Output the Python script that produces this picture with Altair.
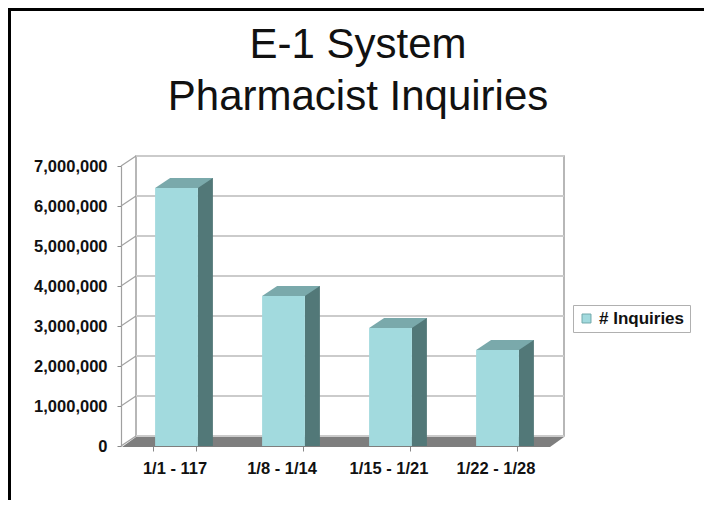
import altair as alt
import pandas as pd

# ---- data ----
categories = ["1/1 - 117", "1/8 - 1/14", "1/15 - 1/21", "1/22 - 1/28"]
inquiries = [6450000, 3750000, 2950000, 2400000]
series_name = "# Inquiries"
y_ticks = [0, 1000000, 2000000, 3000000, 4000000, 5000000, 6000000, 7000000]
title_lines = ["E-1 System", "Pharmacist Inquiries"]

df = pd.DataFrame({"period": categories, "value": inquiries, "series": [series_name] * 4})
ticks_df = pd.DataFrame({"tick": y_ticks})
one = pd.DataFrame({"k": [0]})

W, H = 428, 280
DX, DY = 15, 10  # 3-D depth offset (pixels)
FONT = "Liberation Sans"

FRONT = "#a2dade"
SIDE = "#527878"
TOP = "#7aa9ab"
FLOOR = "#7e7e7e"

xscale = alt.Scale(type="band", domain=categories, paddingInner=0.6, paddingOuter=0.3)
yscale = alt.Scale(domain=[0, 7000000], nice=False, zero=True)

x_axis = alt.Axis(
    labelAngle=0, domain=False, tickBand="extent", tickSize=5, tickColor="#888",
    labelFont=FONT, labelFontSize=16.5, labelFontWeight="bold", labelColor="#111",
    labelPadding=9, title=None,
)
y_axis = alt.Axis(
    values=y_ticks, format=",d", grid=False, domainColor="#a0a0a0", domainWidth=1.2,
    tickColor="#888", tickSize=4, labelFont=FONT, labelFontSize=16.5,
    labelFontWeight="bold", labelColor="#111", labelPadding=10, title=None,
)

def X():
    return alt.X("period:N", scale=xscale, sort=categories, axis=x_axis, title=None)

def Y(field):
    return alt.Y(field, scale=yscale, axis=y_axis, title=None)

# back wall
wall = alt.Chart(one).mark_rect(fill="white", stroke="#a0a0a0", strokeWidth=1.5).encode(
    x=alt.value(DX), x2=alt.value(W + DX), y=alt.value(-DY), y2=alt.value(H - DY)
)

# back-wall gridlines
grid = alt.Chart(ticks_df).mark_rule(color="#cbcbcb", strokeWidth=2, yOffset=-DY).encode(
    y=Y("tick:Q"),
    x=alt.value(DX), x2=alt.value(W + DX),
)

# side-wall diagonals
diag = alt.Chart(ticks_df).mark_rule(color="#a0a0a0", strokeWidth=1.2, y2Offset=-DY).encode(
    y=Y("tick:Q"),
    y2=alt.Y2("tick:Q"),
    x=alt.value(0), x2=alt.value(DX),
)

# floor (parallelogram)
r = 250.0
floor_path = (
    f"M {(-(W + DX) / 2 + 1) / r:.4f} {DY / 2 / r:.4f} "
    f"L {((W + DX) / 2 - DX + 1) / r:.4f} {DY / 2 / r:.4f} "
    f"L {((W + DX) / 2) / r:.4f} {-DY / 2 / r:.4f} "
    f"L {(-(W + DX) / 2 + DX) / r:.4f} {-DY / 2 / r:.4f} Z"
)
floor = alt.Chart(one).mark_point(
    shape=floor_path, size=(2 * r) ** 2, filled=True, color=FLOOR, opacity=1, strokeWidth=0
).encode(x=alt.value((W + DX) / 2), y=alt.value(H - DY / 2 + 1))

bw = W / 4 * 0.4
XOFF = 2

# side faces
side = alt.Chart(df).mark_bar(
    color=SIDE, width=DX, xOffset=bw / 2 + DX / 2 + XOFF, yOffset=-DY
).encode(
    x=X(),
    y=Y("value:Q"),
    y2=alt.datum(0),
)

# top faces
rt = 40.0
top_path = (
    f"M {-bw / 2 / rt:.4f} 0 L {(-bw / 2 + DX) / rt:.4f} {-DY / rt:.4f} "
    f"L {(bw / 2 + DX) / rt:.4f} {-DY / rt:.4f} L {bw / 2 / rt:.4f} 0 Z"
)
top = alt.Chart(df).mark_point(
    shape=top_path, size=(2 * rt) ** 2, filled=True, color=TOP, opacity=1,
    strokeWidth=0, xOffset=XOFF
).encode(
    x=X(),
    y=Y("value:Q"),
)

# front faces (with legend)
front = alt.Chart(df).mark_bar(xOffset=XOFF).encode(
    x=X(),
    y=Y("value:Q"),
    y2=alt.datum(0),
    color=alt.Color(
        "series:N", scale=alt.Scale(range=[FRONT]), title=None,
        legend=alt.Legend(
            orient="none", legendX=452, legendY=139, symbolType="square", symbolSize=80,
            symbolStrokeColor="#70a8aa", symbolStrokeWidth=1, labelFont=FONT,
            labelFontSize=17, labelFontWeight="bold", labelColor="#111",
            padding=5, strokeColor="#b0b0b0", fillColor="white",
        ),
    ),
)

# chart title as text (two lines)
title = alt.Chart(one).mark_text(
    font=FONT, fontSize=42, color="#111", align="center", baseline="alphabetic",
    lineHeight=52,
).encode(x=alt.value(237), y=alt.value(-108), text=alt.value(title_lines))

# outer frame lines (left and top)
frame_left = alt.Chart(one).mark_rule(color="black", strokeWidth=3).encode(
    x=alt.value(-111.5), y=alt.value(-158), y2=alt.value(H + 60)
)
frame_top = alt.Chart(one).mark_rule(color="black", strokeWidth=3).encode(
    x=alt.value(-113), x2=alt.value(W + 160), y=alt.value(-156.5)
)

chart = alt.layer(
    wall, grid, diag, floor, side, top, front, title, frame_left, frame_top
).properties(
    width=W, height=H,
    autosize=alt.AutoSizeParams(type="none"),
    padding={"left": 113, "top": 158, "right": 155, "bottom": 54},
).configure_view(stroke=None)

chart.save("out.html", embed_options={"renderer": "svg", "actions": False})
